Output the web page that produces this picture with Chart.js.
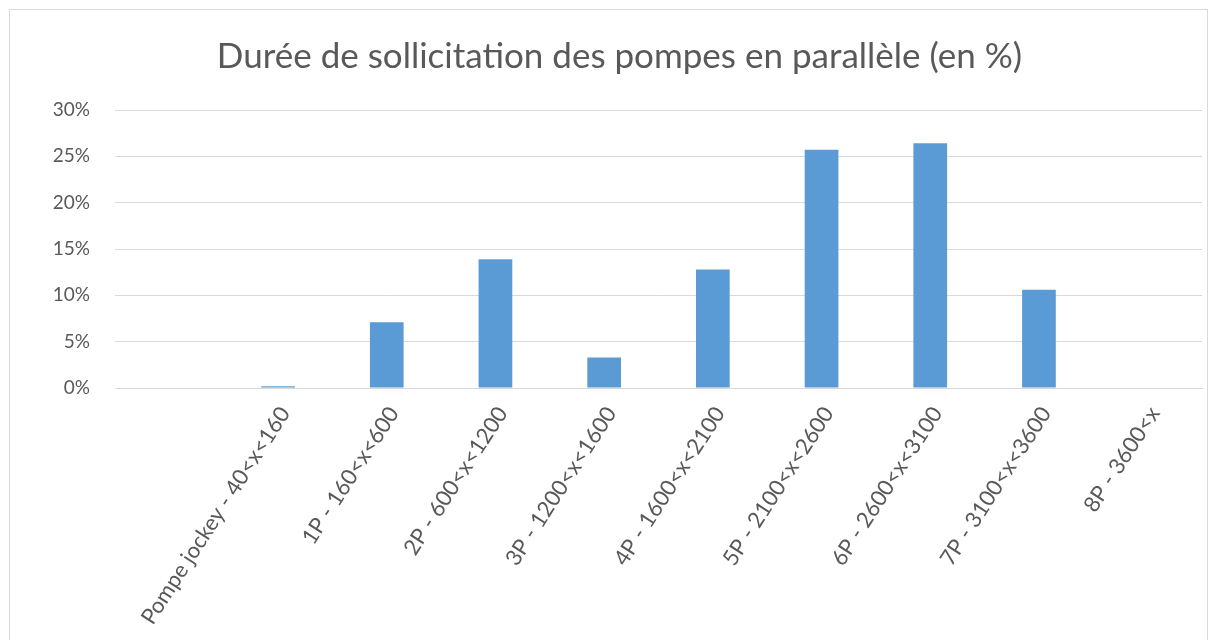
<!DOCTYPE html>
<html>
<head>
<meta charset="utf-8">
<script src="https://cdn.jsdelivr.net/npm/chart.js@4"></script>
<style>
  html, body { margin: 0; padding: 0; background: #fff; }
  #wrap { width: 1218px; height: 640px; position: relative; }
</style>
</head>
<body>
<div id="wrap"><canvas id="myChart" width="1218" height="640"></canvas></div>
<script>
// Catégories (la première est vide, comme dans le tableur d'origine)
const categories = [
    '',
    'Pompe jockey - 40<x<160',
    '1P - 160<x<600',
    '2P - 600<x<1200',
    '3P - 1200<x<1600',
    '4P - 1600<x<2100',
    '5P - 2100<x<2600',
    '6P - 2600<x<3100',
    '7P - 3100<x<3600',
    '8P - 3600<x'
];
// Durée en %
const durations = [0, 0.2, 7.1, 13.9, 3.3, 12.8, 25.7, 26.4, 10.6, 0];
const yTicks = [0, 5, 10, 15, 20, 25, 30];

const textColor = '#595959';
const gridColor = '#d9d9d9';

// fond blanc + cadre gris clair
const framePlugin = {
    id: 'frame',
    beforeDraw(chart) {
        const c = chart.ctx;
        c.save();
        c.fillStyle = '#fff';
        c.fillRect(0, 0, chart.width, chart.height);
        c.strokeStyle = gridColor;
        c.lineWidth = 1;
        c.strokeRect(9.5, 9.5, 1198, 700);
        c.restore();
    }
};

const ctx = document.getElementById('myChart').getContext('2d');
new Chart(ctx, {
    type: 'bar',
    data: {
        labels: categories,
        datasets: [{
            label: 'Durée',
            data: durations,
            backgroundColor: '#5b9bd5',
            borderWidth: 0,
            barPercentage: 0.5,
            categoryPercentage: 0.62
        }]
    },
    options: {
        responsive: false,
        animation: false,
        layout: { padding: { top: 6, right: 0, bottom: 0, left: 21 } },
        plugins: {
            legend: { display: false },
            tooltip: { enabled: false },
            title: {
                display: true,
                text: 'Durée de sollicitation des pompes en parallèle (en %)',
                color: textColor,
                font: { family: 'Lato', size: 35, weight: 'normal' },
                padding: { top: 30, bottom: 32 }
            }
        },
        scales: {
            y: {
                min: 0,
                max: 30,
                afterBuildTicks(scale) {
                    scale.ticks = yTicks.map(v => ({ value: v }));
                },
                afterFit(scale) { scale.width = 94; },
                grid: { color: gridColor, drawTicks: false },
                border: { display: false },
                ticks: {
                    color: textColor,
                    padding: 25,
                    font: { family: 'Lato', size: 19 },
                    callback: v => v + '%'
                }
            },
            // axe vide à droite, juste pour réserver la marge
            y2: {
                position: 'right',
                min: 0,
                max: 30,
                afterFit(scale) { scale.width = 16; },
                grid: { display: false },
                border: { display: false },
                ticks: { display: false }
            },
            x: {
                afterFit(scale) { scale.height = 640 - 388; },
                grid: { display: false },
                border: { color: gridColor, width: 1 },
                ticks: {
                    color: textColor,
                    autoSkip: false,
                    minRotation: 57,
                    maxRotation: 57,
                    padding: 6,
                    labelOffset: 7,
                    font: { family: 'Lato', size: 22 }
                }
            }
        }
    },
    plugins: [framePlugin]
});
</script>
</body>
</html>
